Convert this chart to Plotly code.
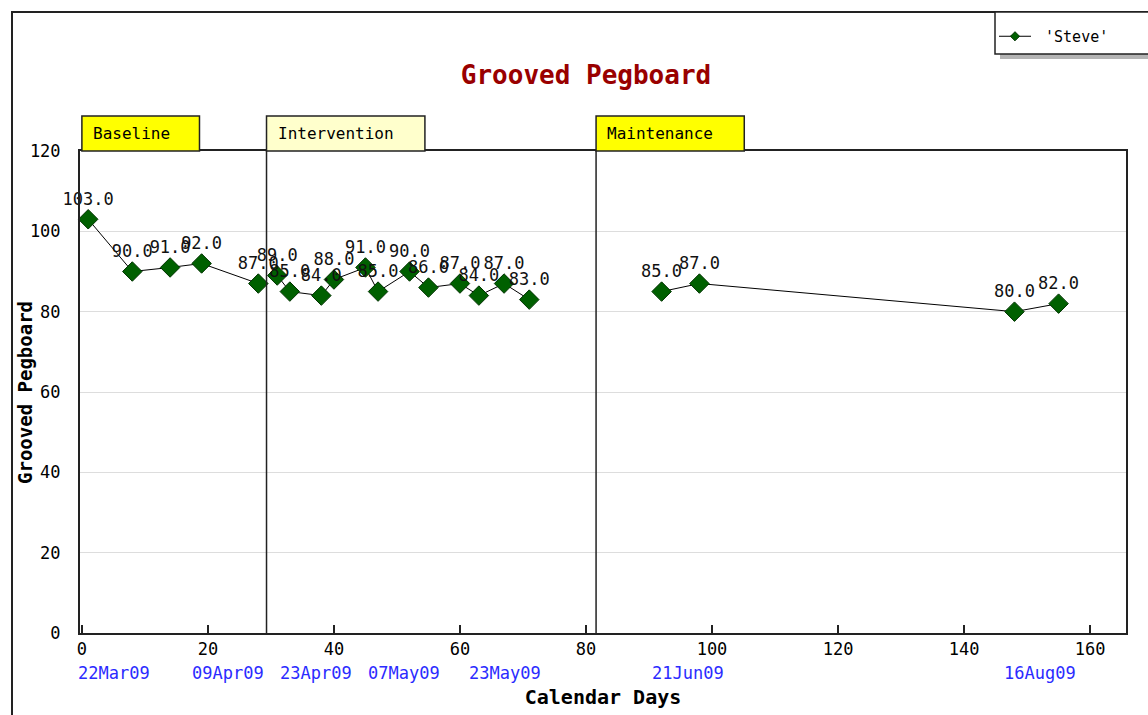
import plotly.graph_objects as go

# ---- data -------------------------------------------------------------
days = [1, 8, 14, 19, 28, 31, 33, 38, 40, 45, 47, 52, 55, 60, 63, 67, 71, 92, 98, 148, 155]
scores = [103, 90, 91, 92, 87, 89, 85, 84, 88, 91, 85, 90, 86, 87, 84, 87, 83, 85, 87, 80, 82]
point_phase = [0, 0, 0, 0, 0,
               1, 1, 1, 1, 1, 1, 1, 1, 1, 1, 1, 1,
               2, 2, 2, 2]

phase_names = ["Baseline", "Intervention", "Maintenance"]
phase_starts = [0, 29.3, 81.6]

date_days = [1, 19, 33, 47, 63, 92, 148]
date_labels = ["22Mar09", "09Apr09", "23Apr09", "07May09", "23May09", "21Jun09", "16Aug09"]

y_ticks = [0, 20, 40, 60, 80, 100, 120]
x_ticks = [0, 20, 40, 60, 80, 100, 120, 140, 160]

# ---- layout geometry --------------------------------------------------
W, H = 1148, 715
ML, MR, MT, MB = 80, 22, 151, 82
PW, PH = W - ML - MR, H - MT - MB
X_RANGE = [-0.3, 165.7]
Y_RANGE = [0, 120]

FONT = "DejaVu Sans Mono"
INK = "#222222"
phase_fill = ["#ffff00", "#ffffcc", "#ffff00"]


def px_x(px):
    return (px - ML) / PW


def px_y(py):
    return (H - MB - py) / PH


def data_x(x):
    return (x - X_RANGE[0]) / (X_RANGE[1] - X_RANGE[0])


fig = go.Figure()

for p, name in enumerate(phase_names):
    xs = [d for d, ph in zip(days, point_phase) if ph == p]
    ys = [v for v, ph in zip(scores, point_phase) if ph == p]
    fig.add_trace(go.Scatter(
        x=xs, y=ys,
        mode="lines+markers+text",
        name="'Steve'",
        legendgroup="steve",
        showlegend=False,
        line=dict(color="black", width=1),
        marker=dict(symbol="diamond", size=15, color="#006000",
                    line=dict(color="#003300", width=1)),
        text=[f"{v:.1f}" for v in ys],
        textposition="top center",
        textfont=dict(family=FONT, size=17, color="#111111"),
        cliponaxis=False,
    ))

# legend entry (small symbol)
fig.add_trace(go.Scatter(
    x=[None], y=[None], mode="lines+markers", name=" 'Steve'",
    legendgroup="steve", showlegend=True,
    line=dict(color="black", width=1),
    marker=dict(symbol="diamond", size=7, color="#006000",
                line=dict(color="#003300", width=1)),
))

shapes = []
annotations = []

# outer frame
shapes.append(dict(type="rect", xref="paper", yref="paper",
                   x0=px_x(12), y0=px_y(12), x1=px_x(W + 20), y1=px_y(H + 20),
                   line=dict(color=INK, width=2), layer="below"))
# legend frame with drop shadow
shapes.append(dict(type="rect", xref="paper", yref="paper",
                   x0=px_x(1000), y0=px_y(17), x1=px_x(W + 20), y1=px_y(59),
                   fillcolor="#b4b4b4", line=dict(width=0)))
shapes.append(dict(type="rect", xref="paper", yref="paper",
                   x0=px_x(995), y0=px_y(12), x1=px_x(W + 20), y1=px_y(54),
                   fillcolor="white", line=dict(color=INK, width=1.5)))

# phase change lines and phase label boxes
box_h = 35 / PH
for p, name in enumerate(phase_names):
    x0 = phase_starts[p]
    if p > 0:
        shapes.append(dict(type="line", xref="x", yref="y",
                           x0=x0, x1=x0, y0=Y_RANGE[0], y1=Y_RANGE[1],
                           line=dict(color=INK, width=1.5)))
    box_w = (10.2 * len(name) + 36) / PW
    bx = data_x(x0)
    shapes.append(dict(type="rect", xref="paper", yref="paper",
                       x0=bx, x1=bx + box_w, y0=1, y1=1 + box_h,
                       fillcolor=phase_fill[p],
                       line=dict(color=INK, width=1.5)))
    annotations.append(dict(xref="paper", yref="paper", x=bx, y=1 + box_h / 2,
                            xanchor="left", yanchor="middle",
                            xshift=9, showarrow=False,
                            text=name,
                            font=dict(family=FONT, size=16, color="black")))

# calendar date labels under the day axis
for d, lab in zip(date_days, date_labels):
    annotations.append(dict(xref="x", yref="paper", x=d, y=0,
                            xanchor="left", yanchor="middle",
                            xshift=-12, yshift=-40, showarrow=False,
                            text=lab,
                            font=dict(family=FONT, size=17, color="#2b2bff")))

# vertical axis title
annotations.append(dict(xref="paper", yref="paper", x=px_x(25), y=px_y(393),
                        xanchor="center", yanchor="middle", textangle=-90,
                        showarrow=False, text="<b>Grooved Pegboard</b>",
                        font=dict(family=FONT, size=19, color="black")))

fig.update_layout(
    width=W, height=H,
    margin=dict(l=ML, r=MR, t=MT, b=MB, autoexpand=False),
    paper_bgcolor="white", plot_bgcolor="white",
    font=dict(family=FONT, size=16, color="black"),
    title=dict(text="Grooved Pegboard", x=586 / W, y=1 - 75 / H,
               xanchor="center", yanchor="middle",
               font=dict(family=FONT, size=26, color="#990000", weight="bold")),
    showlegend=True,
    legend=dict(x=px_x(994), y=px_y(20), xanchor="left", yanchor="top",
                bgcolor="rgba(0,0,0,0)", borderwidth=0,
                font=dict(family=FONT, size=15, color="black"),
                itemwidth=32, tracegroupgap=0),
    shapes=shapes,
    annotations=annotations,
)

fig.update_xaxes(
    range=X_RANGE, tickvals=x_ticks,
    ticks="inside", ticklen=8, tickcolor=INK, tickwidth=1.5,
    showline=True, linecolor=INK, linewidth=2, mirror=True,
    showgrid=False, zeroline=False,
    tickfont=dict(family=FONT, size=17, color="black"),
    title=dict(text="<b>Calendar Days</b>", standoff=32,
               font=dict(family=FONT, size=20, color="black")),
)
fig.update_yaxes(
    range=Y_RANGE, tickvals=y_ticks,
    ticks="", ticklabelstandoff=14,
    showline=True, linecolor=INK, linewidth=2, mirror=True,
    showgrid=True, gridcolor="#dddddd", gridwidth=1, zeroline=False,
    tickfont=dict(family=FONT, size=17, color="black"),
)

fig.write_html("out.html")
